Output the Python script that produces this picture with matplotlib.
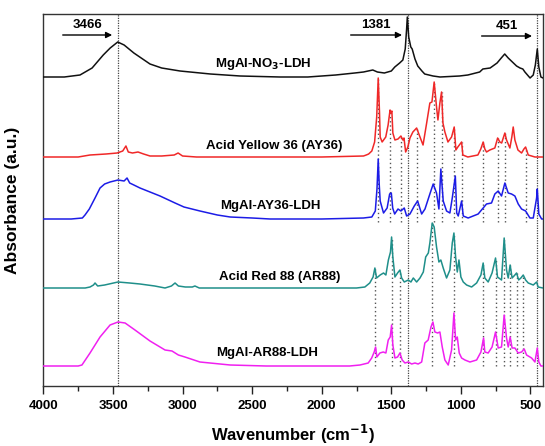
import numpy as np
import matplotlib
matplotlib.use("Agg")
import matplotlib.pyplot as plt
from matplotlib.ticker import MultipleLocator

plt.rcParams['font.family'] = ['Liberation Sans', 'DejaVu Sans']
plt.rcParams['font.weight'] = 'bold'

# FTIR spectra, absorbance above each trace's own baseline (a.u.)
wn_no3 = [4000, 3850, 3737, 3650, 3570, 3520, 3466, 3420, 3350, 3234, 3150, 3018, 2800,
          2586, 2300, 2100, 1900, 1763, 1700, 1633, 1600, 1550, 1500, 1475, 1440, 1417,
          1400, 1390, 1385, 1375, 1360, 1350, 1330, 1310, 1280, 1260, 1200, 1150, 1010,
          950, 865, 842, 790, 740, 710, 685, 660, 630, 600, 575, 555, 540, 503, 480, 465,
          451, 440, 425, 410]
ab_no3 = [0, 0, 2, 9, 22, 29, 35, 32, 24, 13, 9, 6, 3,
          1, 0, 0, 2, 4, 5, 7, 5, 4, 6, 10, 14, 17,
          28, 48, 60, 40, 30, 28, 18, 11, 6, 3, 1, 0, 1,
          2, 5, 8, 9, 14, 19, 23, 19, 15, 11, 9, 8, 5, -1, 2, 12,
          28, 10, 0, -1]

wn_ay36 = [4000, 3750, 3665, 3550, 3470, 3430, 3407, 3390, 3360, 3320, 3280, 3234, 3150,
           3060, 3032, 3000, 2900, 2000, 1700, 1680, 1663, 1640, 1620, 1605, 1594, 1585,
           1580, 1566, 1540, 1523, 1509, 1503, 1496, 1489, 1474, 1452, 1431, 1417, 1409,
           1397, 1381, 1366, 1345, 1318, 1294, 1272, 1246, 1223, 1208, 1192, 1175, 1165,
           1151, 1139, 1129, 1115, 1093, 1067, 1048, 1036, 1022, 995, 986, 950, 878, 857,
           840, 828, 816, 792, 756, 736, 720, 707, 698, 684, 672, 648, 634, 624, 612, 590,
           564, 547, 535, 516, 468, 410]
ab_ay36 = [0, 0, 2, 3, 4, 6, 11, 5, 4, 5, 3, 1, 1,
           2, 4, 1, 0, 0, 1, 2, 3, 6, 15, 40, 79, 45,
           20, 15, 20, 32, 47, 44, 46, 24, 17, 18, 21, 17, 19,
           5, 10, 19, 25, 29, 20, 12, 34, 54, 55, 75, 50, 37,
           54, 65, 34, 25, 15, 20, 30, 7, 10, 15, 2, 0, 2, 8,
           15, 8, 5, 7, 9, 19, 15, 14, 18, 24, 17, 9, 20, 30, 17, 7,
           4, 8, 10, 2, 0, 0]

wn_ay36_ldh = [4000, 3800, 3720, 3701, 3670, 3629, 3593, 3560, 3521, 3464, 3420, 3399, 3380,
               3350, 3306, 3234, 3162, 3054, 2990, 2875, 2750, 2658, 2500, 2371, 2000, 1700,
               1640, 1615, 1603, 1594, 1587, 1580, 1556, 1530, 1512, 1500, 1490, 1476, 1452,
               1431, 1407, 1390, 1366, 1335, 1311, 1282, 1258, 1223, 1199, 1175, 1158, 1144,
               1127, 1103, 1079, 1062, 1040, 1030, 1019, 995, 983, 948, 876, 840, 816, 780,
               756, 732, 708, 684, 660, 636, 612, 588, 564, 535, 504, 480, 456, 451, 440,
               420, 410]
ab_ay36_ldh = [0, 0, 1, 4, 10, 21, 31, 35, 37, 39, 38, 41, 36,
               34, 31, 27, 23, 16, 12, 8, 4, 2, 1, 0, 0, 1,
               2, 8, 30, 60, 35, 18, 6, 11, 25, 26, 11, 5, 10,
               8, 11, 3, 5, 13, 18, 5, 10, 25, 35, 26, 10, 50,
               18, 8, 6, 21, 43, 6, 3, 18, 3, 1, 5, 11, 15, 16,
               25, 28, 23, 36, 26, 25, 23, 15, 10, 8, 1, 1, 21, 30, 5,
               0, 0]

wn_ar88 = [4000, 3700, 3665, 3640, 3629, 3610, 3560, 3464, 3380, 3306, 3200, 3126, 3080,
           3054, 3030, 2980, 2930, 2911, 2880, 2000, 1750, 1690, 1655, 1631, 1618, 1606,
           1580, 1556, 1539, 1521, 1506, 1498, 1489, 1474, 1455, 1438, 1426, 1407, 1378,
           1359, 1342, 1318, 1294, 1270, 1253, 1234, 1223, 1206, 1192, 1175, 1158, 1144,
           1127, 1103, 1079, 1062, 1050, 1038, 1026, 1014, 1000, 983, 959, 923, 887, 856,
           840, 828, 804, 776, 751, 737, 708, 689, 672, 660, 646, 632, 612, 600, 585, 569,
           552, 535, 516, 480, 456, 445, 410]
ab_ar88 = [0, 0, 1, 3, 5, 2, 3, 6, 5, 4, 2, 0, 2,
           5, 2, 1, 1, 2, 0, 0, 0, 1, 5, 11, 20, 10,
           13, 15, 13, 28, 36, 51, 31, 11, 15, 18, 10, 6, 8,
           6, 10, 6, 10, 16, 31, 35, 45, 65, 61, 41, 26, 28,
           20, 10, 18, 45, 55, 31, 16, 28, 11, 6, 3, 1, 5, 13,
           25, 10, 6, 15, 30, 11, 8, 50, 18, 10, 23, 10, 13, 15, 8, 10,
           13, 8, 5, 3, 6, 1, 0]

wn_ar88_ldh = [4000, 3750, 3723, 3665, 3593, 3521, 3464, 3413, 3342, 3234, 3126, 3076, 3030,
               2983, 2875, 2658, 2400, 1800, 1725, 1666, 1641, 1623, 1613, 1604, 1582, 1558,
               1539, 1522, 1508, 1498, 1489, 1474, 1455, 1438, 1422, 1402, 1378, 1354, 1330,
               1307, 1282, 1259, 1235, 1215, 1201, 1187, 1167, 1151, 1134, 1115, 1091, 1067,
               1050, 1038, 1026, 1012, 995, 971, 935, 887, 856, 837, 828, 804, 776, 751, 732,
               708, 689, 672, 660, 646, 632, 612, 588, 564, 545, 528, 492, 468, 451, 440, 425,
               410]
ab_ar88_ldh = [0, 0, 1, 13, 29, 41, 44, 43, 36, 25, 16, 15, 11,
               9, 4, 1, 0, 0, 1, 3, 8, 14, 19, 9, 13, 14,
               13, 26, 29, 41, 21, 8, 9, 13, 6, 3, 4, 2, 3,
               2, 4, 23, 26, 39, 44, 34, 33, 34, 19, 6, 1, 16,
               53, 26, 29, 13, 8, 6, 4, 6, 14, 28, 14, 13, 19, 34, 18,
               19, 51, 28, 19, 29, 18, 18, 13, 14, 17, 11, 8, 4, 18, 4, 0,
               0]

names = ["MgAl-NO$_\\mathbf{3}$-LDH", "Acid Yellow 36 (AY36)", "MgAl-AY36-LDH",
         "Acid Red 88 (AR88)", "MgAl-AR88-LDH"]
colors = ["#111111", "#f02828", "#1c1ce6", "#1f8f8a", "#f020f0"]
offsets = [309, 229, 167, 98, 20]
label_pos = [(2421, 322), (2343, 240), (2372, 180), (2302, 109), (2394, 33)]

spectra = [(wn_no3, ab_no3), (wn_ay36, ab_ay36), (wn_ay36_ldh, ab_ay36_ldh),
           (wn_ar88, ab_ar88), (wn_ar88_ldh, ab_ar88_ldh)]

# band positions marked across all traces
marked = [3466, 1381, 451]
# dye bands carried over into the intercalated LDH
ay36_bands = [1594, 1509, 1431, 1318, 1192, 1139, 1048, 995, 840, 736, 684, 535]
ar88_bands = [1618, 1498, 1438, 1206, 1050, 840, 751, 689, 646, 600, 552]

fig = plt.figure(figsize=(5.45, 4.46), dpi=100)
ax = fig.add_axes([43.4 / 545, 60 / 446, 499.6 / 545, 372 / 446])

for (wn, ab), off, c in zip(spectra, offsets, colors):
    ax.plot(wn, np.array(ab) + off, color=c, lw=1.1, zorder=3)

for w in marked:
    ax.axvline(w, color="#444444", lw=0.9, ls=(0, (1, 1)), zorder=2)

for w in ay36_bands:
    top = np.interp(w, wn_ay36[::-1], ab_ay36[::-1]) + offsets[1]
    ax.plot([w, w], [offsets[2] - 3, top], color="#555555", lw=1.0, ls=(0, (1, 2)), zorder=2)
for w in ar88_bands:
    top = np.interp(w, wn_ar88[::-1], ab_ar88[::-1]) + offsets[3]
    ax.plot([w, w], [offsets[4], top], color="#555555", lw=1.0, ls=(0, (1, 2)), zorder=2)

for name, (x, y) in zip(names, label_pos):
    ax.text(x, y, name, ha="center", va="center", fontsize=9.5, fontweight="bold")

# arrows pointing at the marked bands
arrows = [("3466", 3881, 3486, 351), ("1381", 1812, 1403, 351), ("451", 871, 469, 350)]
for txt, x0, x1, y in arrows:
    ax.annotate("", xy=(x1, y), xytext=(x0, y),
                arrowprops=dict(arrowstyle="-|>", color="black", lw=1.0, mutation_scale=9))
    ax.text((x0 + x1) / 2, y + 4, txt, ha="center", va="bottom", fontsize=9.5, fontweight="bold")

ax.set_xlim(4000, 410)
ax.set_ylim(0, 372)
ax.xaxis.set_major_locator(MultipleLocator(500))
ax.xaxis.set_minor_locator(MultipleLocator(250))
ax.tick_params(axis="x", which="major", direction="out", length=6, width=1, pad=4,
               labelsize=9.5, colors="#222222")
ax.tick_params(axis="x", which="minor", direction="out", length=3.5, width=1, colors="#222222")
ax.set_yticks([])
for s in ax.spines.values():
    s.set_color("#333333")
    s.set_linewidth(1.0)
for lab in ax.get_xticklabels():
    lab.set_fontweight("bold")
    lab.set_color("black")

ax.set_xlabel("Wavenumber (cm$^{\\mathbf{-1}}$)", fontsize=12, fontweight="bold")
ax.xaxis.set_label_coords(0.5, -0.10)
ax.set_ylabel("Absorbance (a.u.)", fontsize=12.5, fontweight="bold")
ax.yaxis.set_label_coords(-0.047, 0.5)

fig.savefig("out.png", dpi=100)
